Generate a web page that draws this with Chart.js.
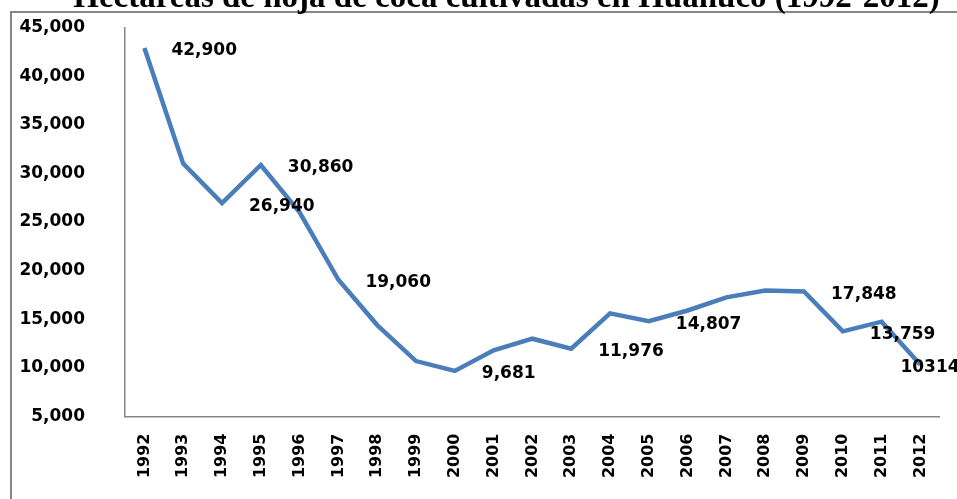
<!DOCTYPE html>
<html>
<head>
<meta charset="utf-8">
<script src="https://cdn.jsdelivr.net/npm/chart.js@4.4.1/dist/chart.umd.min.js"></script>
<style>
  html, body { margin: 0; padding: 0; background: #ffffff; }
  #wrap { width: 957px; height: 499px; position: relative; }
</style>
</head>
<body>
<div id="wrap"><canvas id="c" width="957" height="499"></canvas></div>
<script>
const chartTitle = 'Hectáreas de hoja de coca cultivadas en Huánuco (1992-2012)';
const years = ['1992','1993','1994','1995','1996','1997','1998','1999','2000','2001','2002','2003','2004','2005','2006','2007','2008','2009','2010','2011','2012'];
const hectares = [42900, 31000, 26940, 30860, 26000, 19060, 14400, 10700, 9681, 11800, 13000, 11976, 15600, 14807, 15900, 17250, 17950, 17848, 13759, 14750, 10314];
const valueLabels = ['42,900', '', '26,940', '30,860', '', '19,060', '', '', '9,681', '', '', '11,976', '', '14,807', '', '', '', '17,848', '13,759', '', '10314'];
const yMin = 5000, yMax = 45000, yStep = 5000;

const FONT = '"DejaVu Sans", sans-serif';

const frameAndTitle = {
  id: 'frameAndTitle',
  beforeDraw(chart) {
    const ctx = chart.ctx;
    ctx.save();
    ctx.fillStyle = '#ffffff';
    ctx.fillRect(0, 0, chart.width, chart.height);
    ctx.strokeStyle = '#868686';
    ctx.lineWidth = 2;
    ctx.strokeRect(11, 12, 1200, 800);
    ctx.fillStyle = '#000000';
    ctx.font = 'bold 33px "Liberation Serif", serif';
    ctx.textAlign = 'center';
    ctx.textBaseline = 'alphabetic';
    ctx.fillText(chartTitle, 506.5, 6.5);
    ctx.restore();
  }
};

const pointLabels = {
  id: 'pointLabels',
  afterDatasetsDraw(chart) {
    const ctx = chart.ctx;
    const meta = chart.getDatasetMeta(0);
    const area = chart.chartArea;
    ctx.save();
    ctx.font = 'bold 17px ' + FONT;
    ctx.fillStyle = '#000000';
    ctx.textAlign = 'left';
    ctx.textBaseline = 'middle';
    meta.data.forEach((pt, i) => {
      const t = valueLabels[i];
      if (!t) return;
      let x = pt.x + 27;
      if (x > area.right) x = pt.x - 20;
      ctx.fillText(t, x, pt.y + 3);
    });
    ctx.restore();
  }
};

new Chart(document.getElementById('c'), {
  type: 'line',
  data: {
    labels: years,
    datasets: [{
      data: hectares,
      borderColor: '#4A7EBB',
      borderWidth: 4.5,
      pointRadius: 0,
      pointHoverRadius: 0,
      tension: 0,
      fill: false,
      borderJoinStyle: 'miter'
    }]
  },
  options: {
    responsive: false,
    animation: false,
    layout: { padding: { top: 27.5, right: 16, left: 0, bottom: 0 } },
    plugins: {
      legend: { display: false },
      title: { display: false },
      tooltip: { enabled: false }
    },
    scales: {
      x: {
        offset: true,
        grid: { display: false, drawTicks: false, offset: true },
        border: { display: true, color: '#868686', width: 1.5 },
        ticks: {
          color: '#000000',
          font: { family: FONT, weight: 'bold', size: 16 },
          minRotation: 90,
          maxRotation: 90,
          padding: 17,
          autoSkip: false
        },
        afterFit(scale) { scale.height = 82.5; }
      },
      y: {
        min: yMin,
        max: yMax,
        grid: { display: false, drawTicks: false },
        border: { display: true, color: '#868686', width: 1.5 },
        ticks: {
          stepSize: yStep,
          color: '#000000',
          font: { family: FONT, weight: 'bold', size: 17 },
          padding: 40,
          callback: (v) => v.toLocaleString('en-US')
        },
        afterFit(scale) {
          scale.width = 125;
          scale.paddingTop = 0;
          scale.paddingBottom = 0;
        }
      }
    }
  },
  plugins: [frameAndTitle, pointLabels]
});
</script>
</body>
</html>
